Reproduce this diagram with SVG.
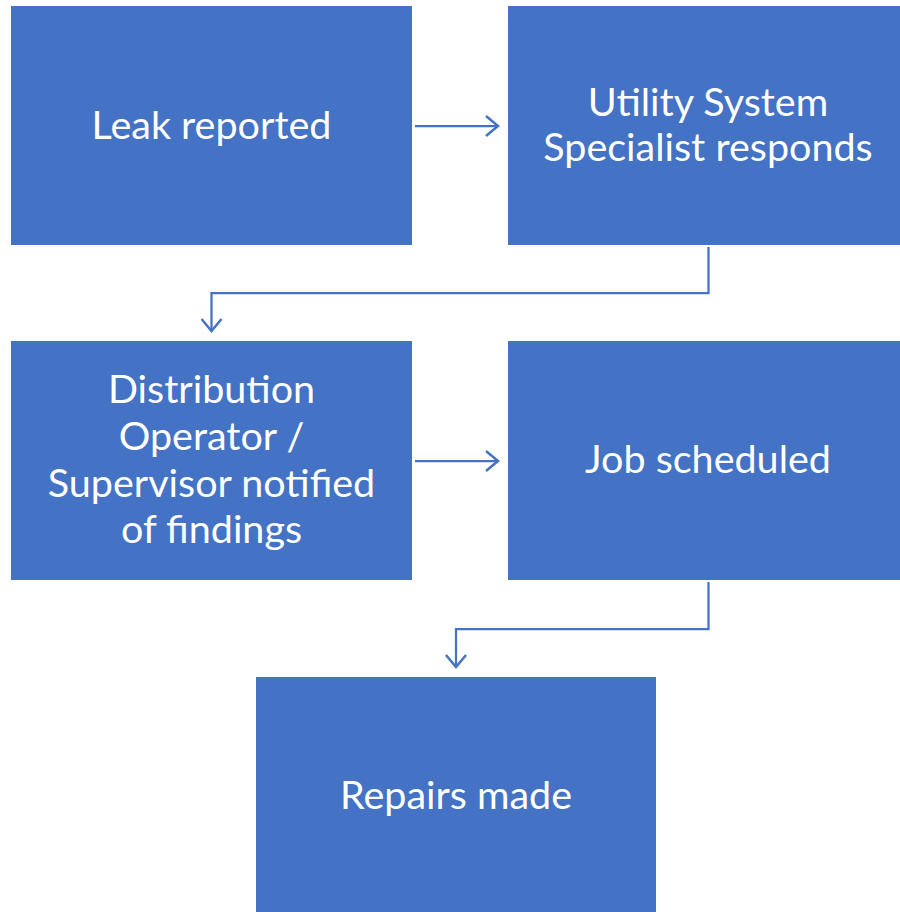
<svg xmlns="http://www.w3.org/2000/svg" width="900" height="912" viewBox="0 0 900 912">
<defs>
<style>
.box{fill:#4472C4;}
.t{fill:#ffffff;font-family:Lato,"Liberation Sans",sans-serif;font-size:39.5px;text-anchor:middle;}
.c{fill:none;stroke:#4472C4;stroke-width:2.25;}
</style>
<marker id="ah" markerWidth="20" markerHeight="22" refX="14" refY="11" orient="auto" markerUnits="userSpaceOnUse">
<path d="M2,1 L14,11 L2,21" fill="none" stroke="#4472C4" stroke-width="2.5"/>
</marker>
</defs>
<rect width="900" height="912" fill="#ffffff"/>
<g id="n1"><rect class="box" x="11" y="6" width="401" height="239"/><text class="t" x="211.5" y="139">Leak reported</text></g>
<g id="n2"><rect class="box" x="508" y="6" width="392" height="239"/><text class="t" x="708" y="116">Utility System</text><text class="t" x="708" y="161">Specialist responds</text></g>
<g id="n3"><rect class="box" x="11" y="341" width="401" height="239"/><text class="t" x="211.5" y="403">Distribution</text><text class="t" x="211.5" y="450">Operator /</text><text class="t" x="211.5" y="497">Supervisor notified</text><text class="t" x="211.5" y="543">of findings</text></g>
<g id="n4"><rect class="box" x="508" y="341" width="392" height="239"/><text class="t" x="708" y="473">Job scheduled</text></g>
<g id="n5"><rect class="box" x="256" y="677" width="400" height="235"/><text class="t" x="456" y="809">Repairs made</text></g>
<g id="connectors">
<path class="c" d="M415,126 L498,126" marker-end="url(#ah)"/>
<path class="c" d="M708.5,247 L708.5,293 L211.5,293 L211.5,331" marker-end="url(#ah)"/>
<path class="c" d="M415,461 L498,461" marker-end="url(#ah)"/>
<path class="c" d="M708.5,582 L708.5,629 L456,629 L456,667" marker-end="url(#ah)"/>
</g>
</svg>
